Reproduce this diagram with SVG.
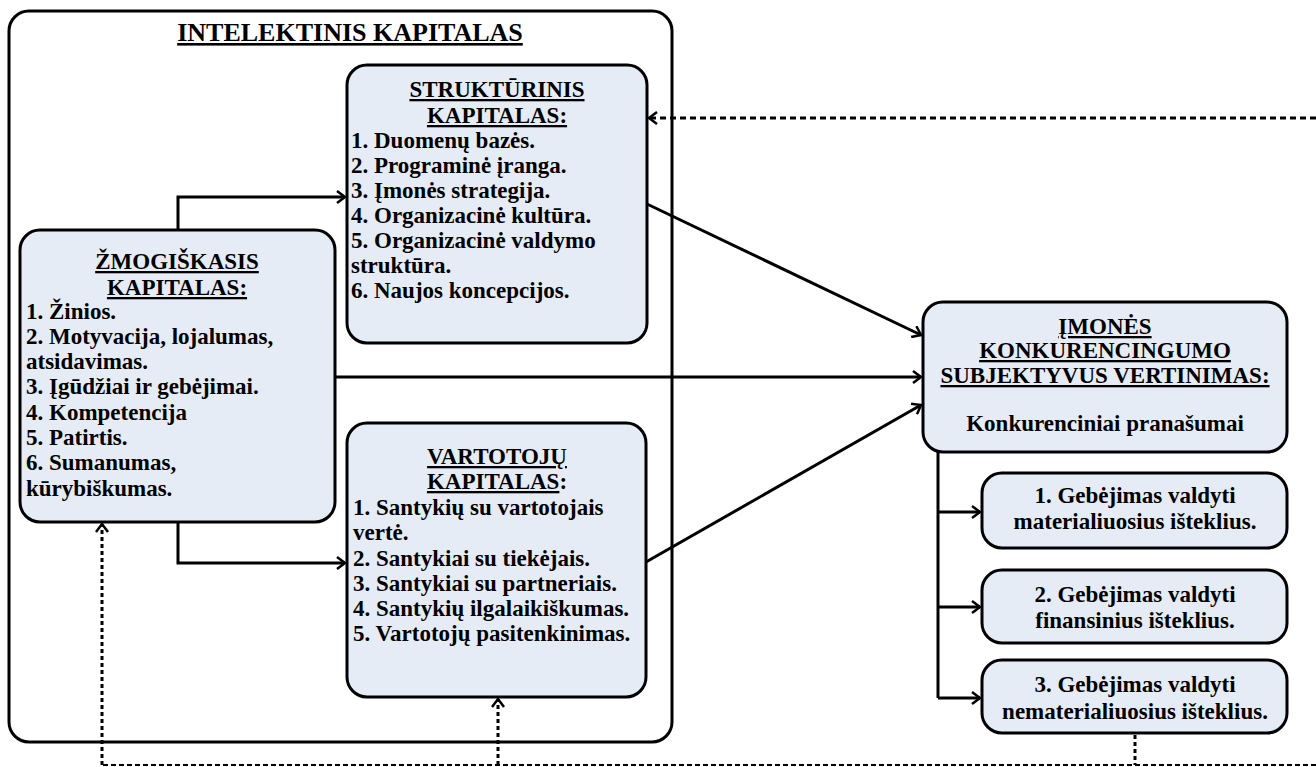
<svg xmlns="http://www.w3.org/2000/svg" width="1316" height="767" viewBox="0 0 1316 767">
  <style>
    .box { fill: #E6ECF6; stroke: #000; stroke-width: 3; }
    .frame { fill: #fff; stroke: #000; stroke-width: 3; }
    .c { text-anchor: middle; }
    .u { text-decoration: underline; }
    .line { fill: none; stroke: #000; stroke-width: 3; }
    .dot { fill: none; stroke: #000; stroke-width: 3; stroke-dasharray: 4 3; }
    .dot-h { fill: none; stroke: #000; stroke-width: 3; stroke-dasharray: 6 4; }
    .dash { fill: none; stroke: #000; stroke-width: 2; stroke-dasharray: 5 3; }
  </style>
  <defs>
    <marker id="arrow" markerUnits="userSpaceOnUse" markerWidth="14" markerHeight="14" refX="11" refY="7" orient="auto">
      <path d="M3,1 L11,7 L3,13" fill="none" stroke="#000" stroke-width="2.5"/>
    </marker>
  </defs>
  <rect width="1316" height="767" fill="#fff"/>

  <g font-family="Liberation Serif, DejaVu Serif, serif" font-weight="bold" font-size="23" fill="#000">
  <!-- outer frame: intellectual capital -->
  <g id="intelektinis">
    <rect class="frame" x="9" y="11" width="663" height="731" rx="20"/>
    <text class="c u" x="350" y="41" font-size="26">INTELEKTINIS KAPITALAS</text>
  </g>

  <g id="strukturinis">
    <rect class="box" x="347" y="65" width="300" height="278" rx="20"/>
    <text class="c u" x="497" y="97">STRUKTŪRINIS</text>
    <text class="c u" x="497" y="123">KAPITALAS:</text>
    <text x="351" y="148">1. Duomenų bazės.</text>
    <text x="351" y="173">2. Programinė įranga.</text>
    <text x="351" y="198">3. Įmonės strategija.</text>
    <text x="351" y="223">4. Organizacinė kultūra.</text>
    <text x="351" y="248">5. Organizacinė valdymo</text>
    <text x="351" y="273">struktūra.</text>
    <text x="351" y="298">6. Naujos koncepcijos.</text>
  </g>

  <g id="zmogiskasis">
    <rect class="box" x="20" y="230" width="315" height="292" rx="20"/>
    <text class="c u" x="177" y="269">ŽMOGIŠKASIS</text>
    <text class="c u" x="177" y="295">KAPITALAS:</text>
    <text x="26" y="319">1. Žinios.</text>
    <text x="26" y="344">2. Motyvacija, lojalumas,</text>
    <text x="26" y="369">atsidavimas.</text>
    <text x="26" y="394">3. Įgūdžiai ir gebėjimai.</text>
    <text x="26" y="420">4. Kompetencija</text>
    <text x="26" y="445">5. Patirtis.</text>
    <text x="26" y="470">6. Sumanumas,</text>
    <text x="26" y="496">kūrybiškumas.</text>
  </g>

  <g id="vartotoju">
    <rect class="box" x="347" y="423" width="299" height="274" rx="20"/>
    <text class="c u" x="497" y="464">VARTOTOJŲ</text>
    <text class="c" x="497" y="489"><tspan class="u">KAPITALAS</tspan>:</text>
    <text x="353" y="515">1. Santykių su vartotojais</text>
    <text x="353" y="540">vertė.</text>
    <text x="353" y="566">2. Santykiai su tiekėjais.</text>
    <text x="353" y="591">3. Santykiai su partneriais.</text>
    <text x="353" y="616">4. Santykių ilgalaikiškumas.</text>
    <text x="353" y="641">5. Vartotojų pasitenkinimas.</text>
  </g>

  <g id="imones">
    <rect class="box" x="923" y="302" width="364" height="150" rx="20"/>
    <text class="c u" x="1105" y="334">ĮMONĖS</text>
    <text class="c u" x="1105" y="358">KONKURENCINGUMO</text>
    <text class="c u" x="1105" y="383">SUBJEKTYVUS VERTINIMAS:</text>
    <text class="c" x="1105" y="431">Konkurenciniai pranašumai</text>
  </g>

  <g id="gebejimas-1">
    <rect class="box" x="982" y="473" width="305" height="75" rx="20"/>
    <text class="c" x="1135" y="503">1. Gebėjimas valdyti</text>
    <text class="c" x="1135" y="529">materialiuosius išteklius.</text>
  </g>

  <g id="gebejimas-2">
    <rect class="box" x="982" y="570" width="305" height="73" rx="20"/>
    <text class="c" x="1135" y="602">2. Gebėjimas valdyti</text>
    <text class="c" x="1135" y="628">finansinius išteklius.</text>
  </g>

  <g id="gebejimas-3">
    <rect class="box" x="982" y="660" width="305" height="73" rx="20"/>
    <text class="c" x="1135" y="692">3. Gebėjimas valdyti</text>
    <text class="c" x="1135" y="719">nematerialiuosius išteklius.</text>
  </g>
  </g>

  <g id="connectors">
    <path class="line" d="M178,230 V197 H345" marker-end="url(#arrow)"/>
    <path class="line" d="M178,522 V563 H345" marker-end="url(#arrow)"/>
    <path class="line" d="M335,377 H921" marker-end="url(#arrow)"/>
    <path class="line" d="M647,204 L921,335" marker-end="url(#arrow)"/>
    <path class="line" d="M646,562 L921,405" marker-end="url(#arrow)"/>
    <path class="line" d="M938,452 V698"/>
    <path class="line" d="M938,512 H980" marker-end="url(#arrow)"/>
    <path class="line" d="M938,607 H980" marker-end="url(#arrow)"/>
    <path class="line" d="M938,698 H980" marker-end="url(#arrow)"/>
    <!-- feedback loop -->
    <path class="dot" d="M1135,735 V765"/>
    <path class="dash" d="M1316,765 H102"/>
    <path class="dot" d="M102,765 V524" marker-end="url(#arrow)"/>
    <path class="dot" d="M498,765 V699" marker-end="url(#arrow)"/>
    <path class="dot-h" d="M1316,118 H649" marker-end="url(#arrow)"/>
  </g>
</svg>
